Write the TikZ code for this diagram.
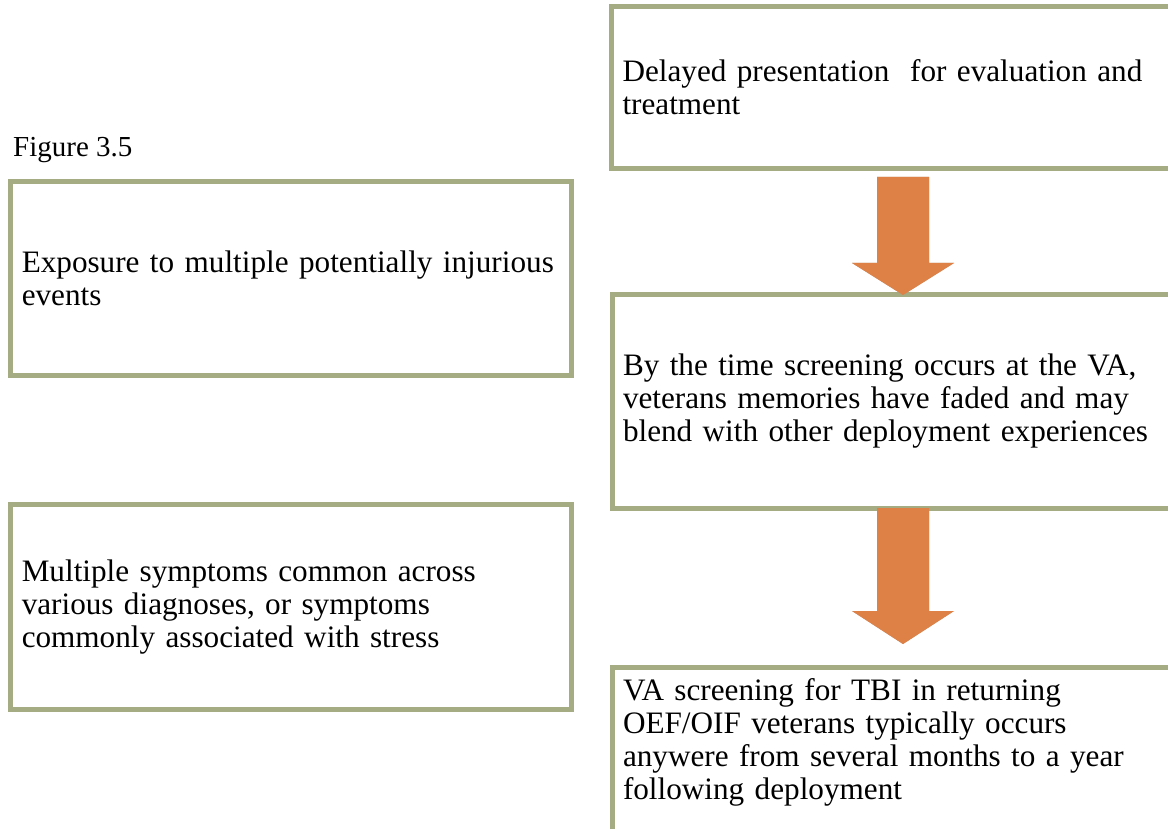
\documentclass[tikz,border=0pt]{standalone}
\usepackage{fontspec}
\setmainfont{Liberation Serif}
\usetikzlibrary{calc}
\hyphenpenalty=10000
\exhyphenpenalty=10000
\definecolor{boxline}{RGB}{165,171,130}
\definecolor{arroworange}{RGB}{222,129,71}
\definecolor{arrowshade}{RGB}{190,152,130}
\tikzset{
  stepbox/.style={draw=boxline, line width=5pt, fill=white, anchor=north west,
    outer sep=0pt, inner xsep=11pt, inner ysep=0pt, align=left,
    font=\fontsize{31.2}{33}\selectfont},
  capstyle/.style={anchor=base west, inner sep=0pt, font=\fontsize{29}{33}\selectfont}
}
\newcommand\blockarrow[3]{%
  \fill[arrowshade, shift={(3pt,-3pt)}] let \p1=(#1), \p2=(#2) in
    (\x1-26pt,\y1) -- (\x1+26pt,\y1) -- (\x1+26pt,\y2+#3pt) -- (\x1+51pt,\y2+#3pt)
    -- (\x2,\y2) -- (\x1-51pt,\y2+#3pt) -- (\x1-26pt,\y2+#3pt) -- cycle;
  \fill[arroworange] let \p1=(#1), \p2=(#2) in
    (\x1-26pt,\y1) -- (\x1+26pt,\y1) -- (\x1+26pt,\y2+#3pt) -- (\x1+51pt,\y2+#3pt)
    -- (\x2,\y2) -- (\x1-51pt,\y2+#3pt) -- (\x1-26pt,\y2+#3pt) -- cycle;
}
\begin{document}
\begin{tikzpicture}[x=1pt,y=-1pt]
\useasboundingbox (0,0) rectangle (1168,829);
\clip (0,0) rectangle (1168,829);
\fill[white] (0,0) rectangle (1168,829);

\node[capstyle] (cap) at (13,157) {Figure 3.5};

\node[stepbox, minimum width=560.5pt, minimum height=193pt, text width=538pt] (A) at (10.5,182)
  {Exposure to multiple potentially injurious\\events};
\node[stepbox, minimum width=560.5pt, minimum height=205.5pt, text width=538pt] (B) at (10.5,504)
  {Multiple symptoms common across\\various diagnoses, or symptoms\\commonly associated with stress};

\node[stepbox, minimum width=600pt, minimum height=162pt, text width=578pt] (C) at (611.5,6.5)
  {Delayed presentation\ \ for evaluation and\\treatment};
\node[stepbox, minimum width=600pt, minimum height=213pt, text width=578pt] (D) at (612,295)
  {By the time screening occurs at the VA,\\veterans memories have faded and may\\blend with other deployment experiences};
\node[stepbox, minimum width=600pt, minimum height=172pt, text width=578pt, text depth=126pt] (E) at (612,667)
  {VA screening for TBI in returning\\OEF/OIF veterans typically occurs\\anywere from several months to a year\\following deployment};

\coordinate (a1top) at (903,177);
\coordinate (a1tip) at (D.north -| a1top);
\coordinate (a2top) at (D.south -| a1top);
\coordinate (a2tip) at (903,644);
\blockarrow{a1top}{a1tip}{32}
\blockarrow{a2top}{a2tip}{33}
\end{tikzpicture}
\end{document}
